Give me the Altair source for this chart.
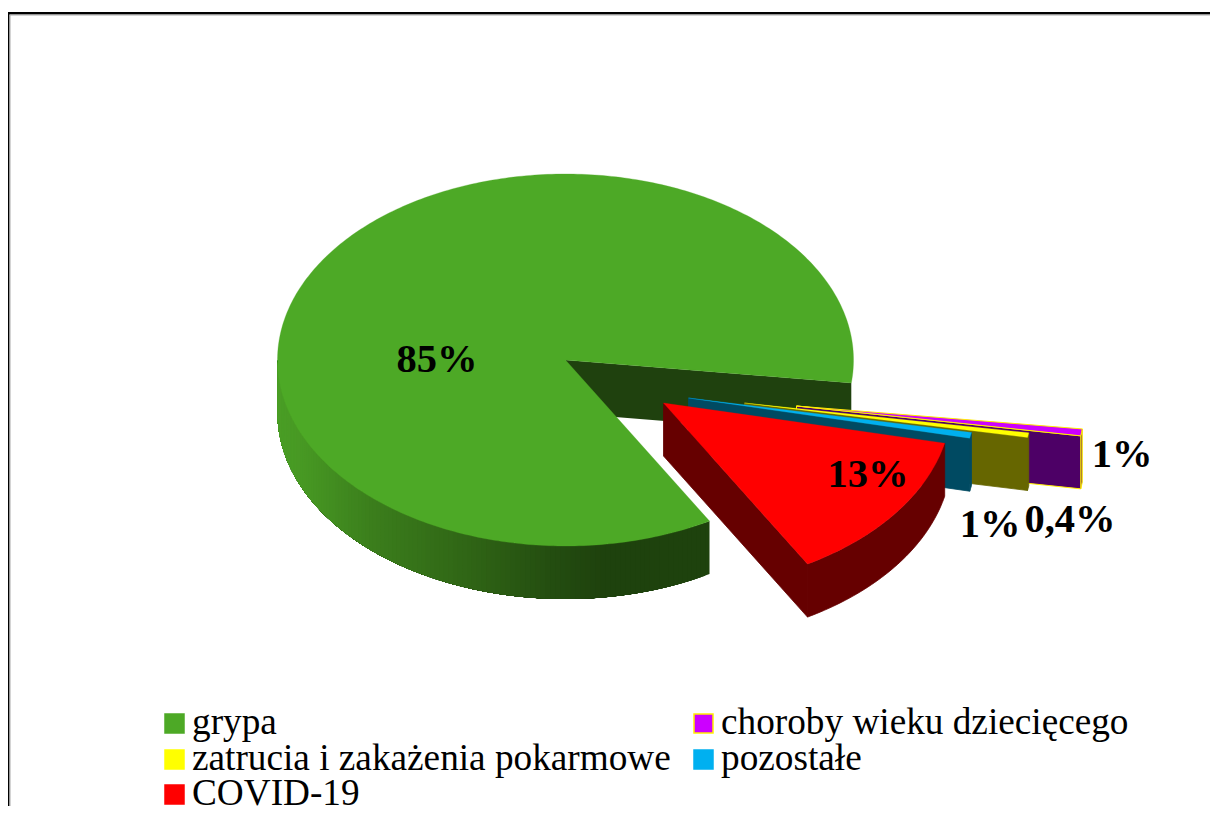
import math
import altair as alt
import pandas as pd

# ---- data
categories = ["grypa", "COVID-19", "pozostałe", "zatrucia i zakażenia pokarmowe", "choroby wieku dziecięcego"]
shares = [85.3, 13.2, 0.5, 0.4, 0.6]
slice_labels = ["85%", "13%", "1%", "0,4%", "1%"]

# ---- styles
top_colors = ["#4DA926", "#FF0000", "#00B0F0", "#FFFF00", "#CC00FF"]
wall_colors = ["#1F410E", "#660000", "#004A62", "#666600", "#4D0066"]
explode = [(0, 0), (98, 43), (123, 38), (179, 43), (231, 46)]
label_xy = [(437, 372), (868, 487), (990, 537), (1070, 532), (1122, 467)]
wall_stops = [(277, "#4A9E26"), (303, "#479823"), (370, "#3B7E1C"), (470, "#2F6415"),
              (553, "#234C10"), (603, "#1E420D"), (853, "#1F410E")]
MAGENTA_EDGE = "#FFEE00"

legend_order = [0, 3, 1, 4, 2]
legend_cols = [165, 165, 165, 694, 694]
legend_rows = [714, 750, 785, 714, 750]
PAGE = 8
CX, CY, RX, RY, DEPTH = 565.5, 360, 288, 186, 53
START = 60.0


def hex_rgb(h):
    return [int(h[i:i + 2], 16) for i in (1, 3, 5)]


def wall_color(x):
    for (x0, c0), (x1, c1) in zip(wall_stops, wall_stops[1:]):
        if x <= x1:
            f = max(0, (x - x0) / (x1 - x0))
            a, b = hex_rgb(c0), hex_rgb(c1)
            return "#%02X%02X%02X" % tuple(round(p + (q - p) * f) for p, q in zip(a, b))
    return wall_stops[-1][1]


def pt(t, ox=0, oy=0, down=0):
    r = math.radians(t)
    return [CX + ox + RX * math.cos(r), CY + oy + RY * math.sin(r) + down]


features = []


def poly(points, fill, stroke=None, width=0.0):
    ring = [[round(p[0] - PAGE, 2), round(p[1] - PAGE, 2)] for p in points]
    ring.append(ring[0])
    features.append({"type": "Feature", "geometry": {"type": "Polygon", "coordinates": [ring]},
                     "properties": {"fill": fill, "stroke": stroke or fill, "w": width}})


# angular ranges from the shares; clockwise on screen, the small slices run back from START
total = sum(shares)
deg = [s / total * 360 for s in shares]
bounds = [START]
for d in deg[1:]:
    bounds.append(bounds[-1] - d)
END = bounds[-1]  # far edge of the wedge gap, where grypa starts

# main pie: back cut wall, rim (painted over itself so the gradient has no seams), top
c_top = [CX, CY]
c_bot = [CX, CY + DEPTH]
poly([c_top, pt(END), pt(END, down=DEPTH), c_bot], wall_colors[0])
t = START
while t < 180:
    ts = [t + (180 - t) * i / 40 for i in range(41)]
    band_top = [pt(a) for a in ts]
    band_bot = [pt(a, down=DEPTH) for a in ts]
    poly(band_top + band_bot[::-1], wall_color(pt(t + 1)[0]))
    t += 1
n = 360
arc = [pt(START + (360 + END - START) * i / n) for i in range(n + 1)]
poly([c_top] + arc, top_colors[0], width=0.3)

# exploded slices, back to front
for idx in [4, 3, 2, 1]:
    hi, lo = bounds[idx - 1], bounds[idx]
    ox, oy = explode[idx]
    apex = [CX + ox, CY + oy]
    apex_d = [apex[0], apex[1] + DEPTH]
    m = max(2, int((hi - lo) / 1.0))
    rim = [pt(hi + (lo - hi) * i / m, ox, oy) for i in range(m + 1)]
    rim_d = [pt(hi + (lo - hi) * i / m, ox, oy, DEPTH) for i in range(m + 1)]
    is_mag = idx == 4
    wall_edge = MAGENTA_EDGE if is_mag else wall_colors[idx]
    w = 1.0 if is_mag else 0.8
    poly(rim + rim_d[::-1], wall_colors[idx], wall_edge, w)
    poly([apex, pt(hi, ox, oy), pt(hi, ox, oy, DEPTH), apex_d], wall_colors[idx], wall_edge, w)
    poly([apex] + rim, top_colors[idx], MAGENTA_EDGE if is_mag else top_colors[idx], 1.0 if is_mag else 0.3)

geo = (
    alt.Chart(alt.InlineData(values={"type": "FeatureCollection", "features": features},
                             format=alt.DataFormat(property="features", type="json")))
    .mark_geoshape()
    .encode(
        fill=alt.Fill("properties.fill:N", scale=None),
        stroke=alt.Stroke("properties.stroke:N", scale=None),
        strokeWidth=alt.StrokeWidth("properties.w:Q", scale=None),
    )
    .project(type="identity", scale=1, translate=[0, 0])
)

labels = pd.DataFrame({
    "t": slice_labels,
    "x": [p[0] - PAGE for p in label_xy],
    "y": [p[1] - PAGE for p in label_xy],
})
label_layer = alt.Chart(labels).mark_text(
    font="Liberation Serif", fontWeight="bold", fontSize=40.5, color="black",
    align="center", baseline="alphabetic"
).encode(x=alt.X("x:Q", scale=None), y=alt.Y("y:Q", scale=None), text="t:N")

leg = pd.DataFrame({
    "name": [categories[i] for i in legend_order],
    "fill": [top_colors[i] for i in legend_order],
    "edge": [MAGENTA_EDGE if i == 4 else top_colors[i] for i in legend_order],
    "x": [c - PAGE for c in legend_cols],
    "y": [r - PAGE for r in legend_rows],
})
leg["x2"] = leg.x + 19
leg["y2"] = leg.y + 19
leg["tx"] = leg.x + 27
leg["ty"] = leg.y + 20
leg_boxes = alt.Chart(leg).mark_rect(strokeWidth=1.5).encode(
    x=alt.X("x:Q", scale=None), x2="x2:Q", y=alt.Y("y:Q", scale=None), y2="y2:Q",
    fill=alt.Fill("fill:N", scale=None), stroke=alt.Stroke("edge:N", scale=None),
)
leg_text = alt.Chart(leg).mark_text(
    font="Liberation Serif", fontSize=37.25, color="black", align="left", baseline="alphabetic"
).encode(x=alt.X("tx:Q", scale=None), y=alt.Y("ty:Q", scale=None), text="name:N")

frame = pd.DataFrame({
    "x": [0, 1.5, 0, 1.5],
    "x2": [1.5, 2.5, 1202, 1202],
    "y": [4.5, 7, 4, 6.5],
    "y2": [798, 798, 6.5, 7.5],
    "c": ["#000000", "#AAAAAA", "#000000", "#AAAAAA"],
})
frame_layer = alt.Chart(frame).mark_rect().encode(
    x=alt.X("x:Q", scale=None), x2="x2:Q", y=alt.Y("y:Q", scale=None), y2="y2:Q",
    fill=alt.Fill("c:N", scale=None),
)

chart = alt.layer(frame_layer, geo, label_layer, leg_boxes, leg_text).properties(
    width=1202, height=798, padding=0,
    autosize=alt.AutoSizeParams(type="none"),
    background="white",
).configure_view(stroke=None)

chart.save("out.html", embed_options={"renderer": "svg", "actions": False})
